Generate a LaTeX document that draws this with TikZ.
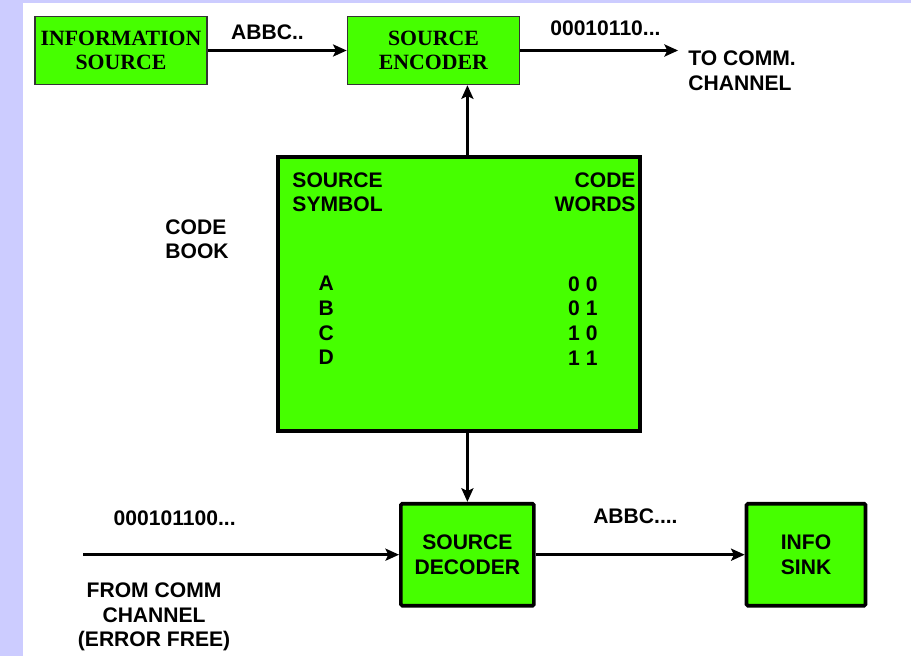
\documentclass[tikz,border=0pt]{standalone}
\usepackage{fontspec}
\setmainfont{Liberation Serif}
\setsansfont{Liberation Sans}
\usepackage{tikz}
\usetikzlibrary{positioning, arrows.meta, calc}
\definecolor{boxgreen}{RGB}{70,255,0}
\definecolor{slidebg}{RGB}{204,204,255}
\definecolor{thinedge}{RGB}{51,51,51}
\newcommand{\SansLbl}{\sffamily\bfseries\fontsize{15}{17.5}\selectfont}
\newcommand{\SerifLbl}{\rmfamily\bfseries\fontsize{15.5}{17}\selectfont}
\tikzset{
    oldbox/.style={draw=thinedge, line width=1pt, fill=boxgreen, font=\SerifLbl, align=center},
    block/.style={draw, line width=2.6pt, fill=boxgreen, rounded corners=1pt, font=\SansLbl, align=center},
    lbl/.style={font=\SansLbl, inner sep=0pt, align=center},
    every edge/.append style={line width=2.4pt},
}

\begin{document}
\begin{tikzpicture}[>={Stealth[length=0.34cm,width=0.3cm,inset=0.07cm]}]
    \tikzset{
      node distance=1cm,
      oldbox/.append style={minimum width=4.3cm, minimum height=1.7cm}
    }

    % slide background
    \fill[slidebg] (0,0) rectangle (22.775,-16.4);
    \fill[white] (0.575,-0.075) rectangle (22.775,-16.4);
    \useasboundingbox (0,0) rectangle (22.775,-16.4);

    \node[oldbox] (infosrc) at (3.025,-1.2625) {INFORMATION\\SOURCE};
    \node[oldbox, right=3.475cm of infosrc] (enc) {SOURCE\\ENCODER};
    \coordinate[right=3.95cm of enc.east] (tocomm);
    \draw (infosrc) edge[->] node[lbl, pos=.43, above=0.225cm]{ABBC..} (enc);
    \draw (enc) edge[->] node[lbl, pos=.54, above=0.325cm]{00010110...} (tocomm);
    \node[lbl, anchor=north west, align=left] at ([xshift=0.25cm]tocomm) {TO COMM.\\CHANNEL};

    % code book
    \node[block, rounded corners=0pt, minimum width=9.05cm, minimum height=6.85cm,
          below=1.75cm of enc, xshift=0.64cm] (cb) {};
    \node[lbl, anchor=north west, align=left] at ([shift={(0.4cm,-0.425cm)}]cb.north west) {SOURCE\\SYMBOL};
    \node[lbl, anchor=north east, align=right] at ([shift={(-0.15cm,-0.425cm)}]cb.north east) {CODE\\WORDS};
    \node[lbl, anchor=north] at ([shift={(1.25cm,-3.025cm)}]cb.north west) {A\\B\\C\\D};
    \node[lbl, anchor=north] at ([shift={(-1.475cm,-3.025cm)}]cb.north east) {0 0\\0 1\\1 0\\1 1};
    \node[lbl, anchor=north west, align=left] at ([shift={(-2.775cm,-1.6cm)}]cb.north west) {CODE\\BOOK};

    \node[block, minimum width=3.325cm, minimum height=2.55cm,
          below=1.725cm of cb, xshift=0.21cm] (dec) {SOURCE\\DECODER};
    \node[block, minimum width=2.975cm, minimum height=2.55cm,
          right=5.225cm of dec] (sink) {INFO\\SINK};
    \coordinate[left=7.9cm of dec.west] (fromcomm);

    \draw (dec.north |- cb.north) edge[->] (dec.north |- enc.south);
    \draw (dec.north |- cb.south) edge[->] (dec);
    \draw (fromcomm) edge[->] node[lbl, pos=.29, above=0.675cm]{000101100...} (dec);
    \draw (dec) edge[->] node[lbl, pos=.477, above=0.725cm]{ABBC....} (sink);
    \node[lbl, anchor=north] at ([shift={(1.775cm,-0.7cm)}]fromcomm) {FROM COMM\\CHANNEL\\(ERROR FREE)};

  \end{tikzpicture}
\end{document}
